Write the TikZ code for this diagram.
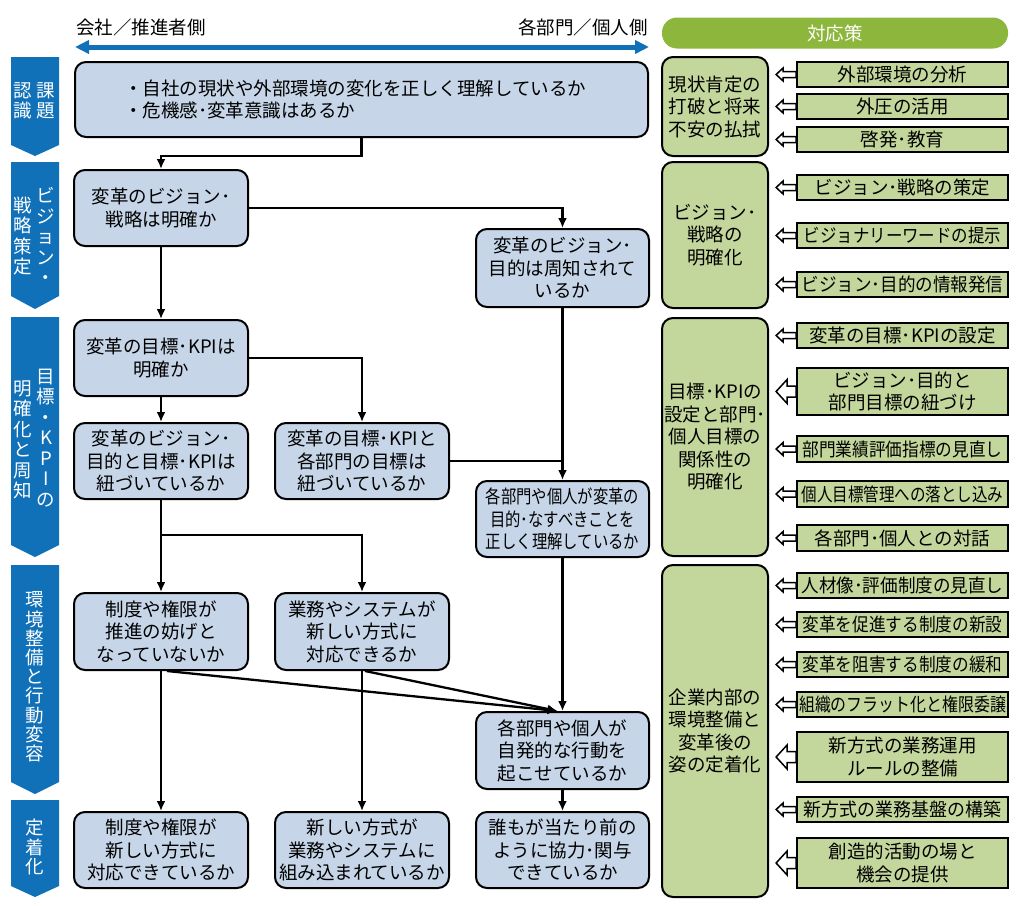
\documentclass[tikz,border=0pt]{standalone}
\usepackage{fontspec}
\setmainfont{Noto Sans CJK JP}
\usetikzlibrary{arrows.meta,calc}
\definecolor{chev}{HTML}{1070B8}
\definecolor{qfill}{HTML}{C6D6E8}
\definecolor{gfill}{HTML}{C3D69B}
\definecolor{ghead}{HTML}{8DB63C}
\newcommand\fsQ{\fontsize{18.5}{22.5}\selectfont}
\newcommand\fsV{\fontsize{18.5}{20.5}\selectfont}
\newcommand\fsW{\fontsize{18.5}{19.2}\selectfont}
\newcommand\sx[2]{\scalebox{#1}[1]{#2}}
\tikzset{
  qbox/.style={draw=black, line width=2pt, fill=qfill, rounded corners=11pt, align=center, inner sep=0pt, font=\fsQ},
  gcat/.style={draw=black, line width=2pt, fill=gfill, rounded corners=11pt, align=center, inner sep=0pt, font=\fsQ, minimum width=106pt},
  meas/.style={draw=black, line width=1.8pt, fill=gfill, align=center, inner sep=0pt, font=\fsQ, minimum width=211pt},
  chevshape/.style={fill=chev, draw=none},
  vtxt/.style={text=white, align=center, inner sep=0pt, font=\fsV},
  conn/.style={draw=black, line width=2.3pt, -{Latex[length=10pt,width=9pt]}},
  plain/.style={draw=black, line width=2.3pt},
  barr/.style={draw=black, line width=1.5pt, fill=white, line join=miter},
  toplbl/.style={inner sep=0pt, font=\fsQ},
}
\newcommand\larrow[4]{\draw[barr, shift={(#1.west)}] (-20,0) -- (-20+#2,-#3) -- (-20+#2,-#4) -- (0,-#4) -- (0,#4) -- (-20+#2,#4) -- (-20+#2,#3) -- cycle;}
\newcommand\chevron[3]{\fill[chevshape] (11,#1) -- (59,#1) -- (59,#2) -- (35,#3) -- (11,#2) -- cycle;}
\begin{document}
\begin{tikzpicture}[x=1pt,y=-1pt]
\useasboundingbox (0,0) rectangle (1030,905);
\fill[white] (0,0) rectangle (1030,905);

% top axis
\node[toplbl, anchor=west] (lblL) at (76,27) {会社／推進者側};
\node[toplbl, anchor=east] (lblR) at (648,27) {各部門／個人側};
\coordinate (axl) at (75,47);
\coordinate (axr) at (649,47);
\draw[line width=5pt, chev, {Triangle[length=14pt,width=13pt]}-{Triangle[length=14pt,width=13pt]}] (axl) -- (axr);

% header
\node[fill=ghead, rounded corners=15pt, minimum width=346pt, minimum height=31pt, inner sep=0pt, text=white, font=\fsQ] (hdr) at (835,33) {対応策};

% chevrons
\chevron{57}{145}{156}
\chevron{162}{296}{309}
\chevron{317}{545}{557}
\chevron{565}{782}{794}
\chevron{800}{886}{897}
\node[vtxt] (v1r) at (46,101) {課\\題};
\node[vtxt] (v1l) at (23,101) {認\\識};
\node[vtxt] (v2r) at (46,236) {ビ\\ジ\\ョ\\ン\\・};
\node[vtxt] (v2l) at (23,236) {戦\\略\\策\\定};
\node[vtxt] (v3r) at (46,438) {目\\標\\・\\K\\P\\I\\の};
\node[vtxt] (v3l) at (23,440) {明\\確\\化\\と\\周\\知};
\node[vtxt, font=\fsW] (v4) at (35,677) {環\\境\\整\\備\\と\\行\\動\\変\\容};
\node[vtxt, font=\fsW] (v5) at (35,847) {定\\着\\化};

% flow boxes
\node[qbox, minimum width=573pt, minimum height=75pt] (a) at (361.5,99.5) {};
\node[anchor=west, align=left, inner sep=0pt, font=\fsQ] (atxt) at (124,99.5) {・自社の現状や外部環境の変化を正しく理解しているか\\・危機感･変革意識はあるか};
\node[qbox, minimum width=174pt, minimum height=76pt] (b1) at (161,208) {変革のビジョン･\\戦略は明確か};
\node[qbox, minimum width=173pt, minimum height=78pt] (b2) at (562.5,268) {変革のビジョン･\\目的は周知されて\\いるか};
\node[qbox, minimum width=174pt, minimum height=76pt] (c1) at (161,358) {変革の目標･KPIは\\明確か};
\node[qbox, minimum width=174pt, minimum height=76pt] (c2) at (161,461) {変革のビジョン･\\目的と目標･KPIは\\紐づいているか};
\node[qbox, minimum width=174pt, minimum height=76pt] (c3) at (362,461) {変革の目標･KPIと\\各部門の目標は\\紐づいているか};
\node[qbox, minimum width=173pt, minimum height=76pt] (c4) at (562.5,519) {\sx{0.83}{各部門や個人が変革の}\\\sx{0.83}{目的･なすべきことを}\\\sx{0.83}{正しく理解しているか}};
\node[qbox, minimum width=174pt, minimum height=77pt] (d1) at (161,631.5) {制度や権限が\\推進の妨げと\\なっていないか};
\node[qbox, minimum width=174pt, minimum height=77pt] (d2) at (362,631.5) {業務やシステムが\\新しい方式に\\対応できるか};
\node[qbox, minimum width=173pt, minimum height=77pt] (d3) at (562.5,750.5) {各部門や個人が\\自発的な行動を\\起こせているか};
\node[qbox, minimum width=174pt, minimum height=76pt] (e1) at (161,850) {制度や権限が\\新しい方式に\\対応できているか};
\node[qbox, minimum width=174pt, minimum height=76pt] (e2) at (362,850) {新しい方式が\\業務やシステムに\\組み込まれているか};
\node[qbox, minimum width=173pt, minimum height=76pt] (e3) at (562.5,850) {誰もが当たり前の\\ように協力･関与\\できているか};

% connectors
\draw[conn] (a.south) -- ++(0,18) -| (b1.north);
\draw[conn] (b1.east) -| (b2.north);
\draw[conn] (b1.south) -- (c1.north);
\draw[conn] (c1.east) -| (c3.north);
\draw[conn] (c1.south) -- (c2.north);
\draw[conn] (b2.south) -- (c4.north);
\draw[plain] (c3.east) -- (c3.east -| c4.north);
\draw[conn] (c2.south) -- (d1.north);
\coordinate (br) at ($(c2.south)+(0,35)$);
\draw[conn] (br) -| (d2.north);
\draw[conn] (c4.south) -- (d3.north);
\draw[conn] (d1.south) -- (e1.north);
\draw[conn] ([xshift=6pt]d1.south) -- ([xshift=-5pt]d3.north);
\draw[conn] ([xshift=3pt]d2.south) -- ([xshift=-5pt]d3.north);
\draw[conn] (d2.south) -- (e2.north);
\draw[conn] (d3.south) -- (e3.north);

% category boxes
\node[gcat, minimum height=99pt] (g1) at (715,106.5) {現状肯定の\\打破と将来\\不安の払拭};
\node[gcat, minimum height=146pt] (g2) at (715,235) {ビジョン･\\戦略の\\明確化};
\node[gcat, minimum height=238pt] (g3) at (715,437) {目標･KPIの\\設定と部門･\\個人目標の\\関係性の\\明確化};
\node[gcat, minimum height=332pt] (g4) at (715,731) {企業内部の\\環境整備と\\変革後の\\姿の定着化};

% measures
\node[meas, minimum height=25pt] (m1) at (902.5,74.5) {外部環境の分析};
\node[meas, minimum height=25pt] (m2) at (902.5,106.5) {外圧の活用};
\node[meas, minimum height=25pt] (m3) at (902.5,139.5) {啓発･教育};
\node[meas, minimum height=25pt] (m4) at (902.5,187.5) {ビジョン･戦略の策定};
\node[meas, minimum height=25pt] (m5) at (902.5,235.5) {\sx{0.89}{ビジョナリーワードの提示}};
\node[meas, minimum height=25pt] (m6) at (902.5,284.5) {\sx{0.95}{ビジョン･目的の情報発信}};
\node[meas, minimum height=25pt] (m7) at (902.5,335.5) {変革の目標･KPIの設定};
\node[meas, minimum height=47pt] (m8) at (902.5,391.5) {ビジョン･目的と\\部門目標の紐づけ};
\node[meas, minimum height=26pt] (m9) at (902.5,449) {\sx{0.9}{部門業績評価指標の見直し}};
\node[meas, minimum height=26pt] (m10) at (902.5,494) {\sx{0.84}{個人目標管理への落とし込み}};
\node[meas, minimum height=26pt] (m11) at (902.5,538) {各部門･個人との対話};
\node[meas, minimum height=25pt] (m12) at (902.5,585.5) {\sx{0.95}{人材像･評価制度の見直し}};
\node[meas, minimum height=25pt] (m13) at (902.5,624.5) {\sx{0.9}{変革を促進する制度の新設}};
\node[meas, minimum height=25pt] (m14) at (902.5,664.5) {\sx{0.9}{変革を阻害する制度の緩和}};
\node[meas, minimum height=25pt] (m15) at (902.5,704.5) {\sx{0.86}{組織のフラット化と権限委譲}};
\node[meas, minimum height=50pt] (m16) at (902.5,757) {新方式の業務運用\\ルールの整備};
\node[meas, minimum height=25pt] (m17) at (902.5,809.5) {\sx{0.97}{新方式の業務基盤の構築}};
\node[meas, minimum height=50pt] (m18) at (902.5,863) {創造的活動の場と\\機会の提供};

% block arrows
\foreach \n in {m1,m2,m3,m4,m5,m6,m7,m9,m10,m11,m12,m13,m14,m15,m17} {\larrow{\n}{7}{6.5}{3}}
\foreach \n in {m8,m16,m18} {\larrow{\n}{11}{12}{5.5}}
\end{tikzpicture}
\end{document}
